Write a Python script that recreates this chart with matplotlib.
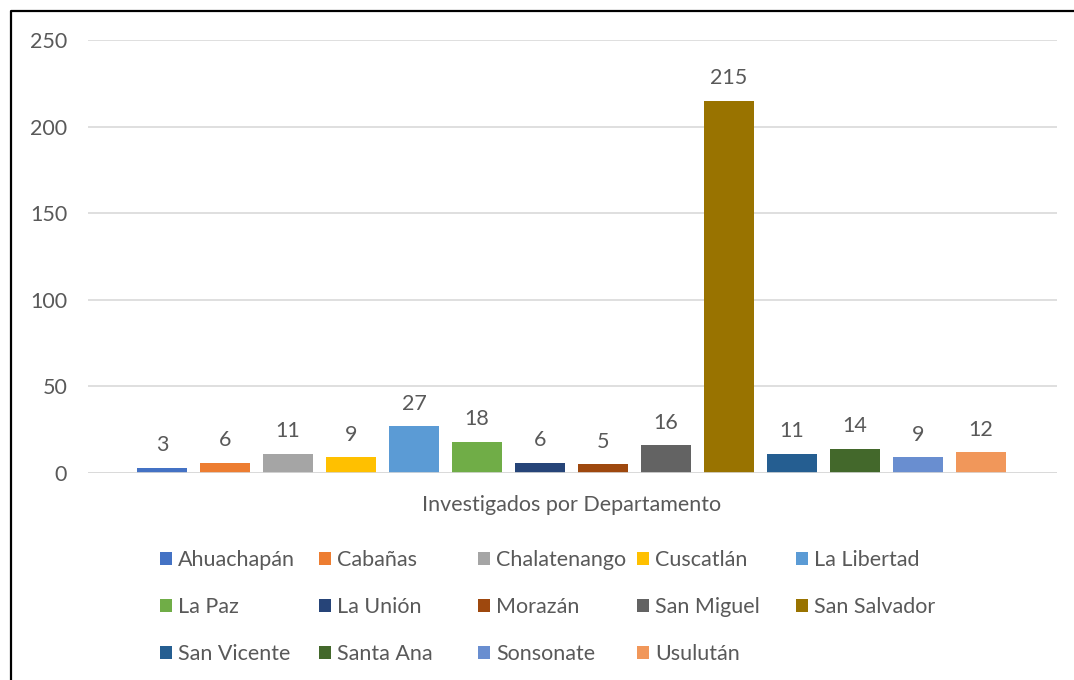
import matplotlib.pyplot as plt
from matplotlib.patches import Patch
from matplotlib.lines import Line2D

plt.rcParams['font.family'] = ['Lato', 'DejaVu Sans']

departamentos = ['Ahuachapán', 'Cabañas', 'Chalatenango', 'Cuscatlán', 'La Libertad',
                 'La Paz', 'La Unión', 'Morazán', 'San Miguel', 'San Salvador',
                 'San Vicente', 'Santa Ana', 'Sonsonate', 'Usulután']
investigados = [3, 6, 11, 9, 27, 18, 6, 5, 16, 215, 11, 14, 9, 12]
colores = ['#4472C4', '#ED7D31', '#A5A5A5', '#FFC000', '#5B9BD5',
           '#70AD47', '#264478', '#9E480E', '#636363', '#997300',
           '#255E91', '#43682B', '#698ED0', '#F1975A']
categoria = 'Investigados por Departamento'
yticks = [0, 50, 100, 150, 200, 250]

gris = '#595959'
fs = 15.5
W, H = 1074, 680
fig = plt.figure(figsize=(W / 100, H / 100), dpi=100)
ax = fig.add_axes([88 / W, 1 - 473 / H, (1057 - 88) / W, (473 - 40) / H])

x = list(range(len(investigados)))
bars = ax.bar(x, investigados, width=0.78, color=colores, zorder=3)
for b, v in zip(bars, investigados):
    ax.annotate(str(v), (b.get_x() + b.get_width() / 2, v), xytext=(0, 9),
                textcoords='offset points', ha='center', va='bottom',
                fontsize=fs, color=gris)

ax.set_xlim((88 - 162) / 63, (1057 - 162) / 63)
ax.set_ylim(0, 250)
ax.set_yticks(yticks)
ax.set_xticks([])
ax.grid(axis='y', color='#D9D9D9', linewidth=1.2, zorder=0)
for s in ax.spines.values():
    s.set_visible(False)
ax.tick_params(axis='y', length=0, pad=15, labelsize=fs, labelcolor=gris)
ax.axhline(0, color='#D9D9D9', linewidth=1.2, zorder=4)

fig.text(572 / W, 1 - 505 / H, categoria, ha='center', va='center',
         fontsize=fs, color=gris)

# legend: 5 columns, filled row by row like Excel
ncol = 5
col_x = [160, 319, 478, 637, 796]
for c in range(ncol):
    idx = list(range(c, len(departamentos), ncol))
    handles = [Patch(facecolor=colores[i], edgecolor='none') for i in idx]
    labels = [departamentos[i] for i in idx]
    fig.legend(handles, labels, loc='upper left',
               bbox_to_anchor=(col_x[c] / W, 1 - 550 / H),
               frameon=False, fontsize=fs, labelcolor=gris,
               borderpad=0, borderaxespad=0, handlelength=0.56,
               handleheight=0.56, handletextpad=0.28, labelspacing=1.25)

# border on left and top
fig.add_artist(Line2D([11 / W, 11 / W, 1], [0, 1 - 11 / H, 1 - 11 / H],
                      color='black', linewidth=1.6, transform=fig.transFigure))

fig.savefig('out.png', dpi=100, facecolor='white')
